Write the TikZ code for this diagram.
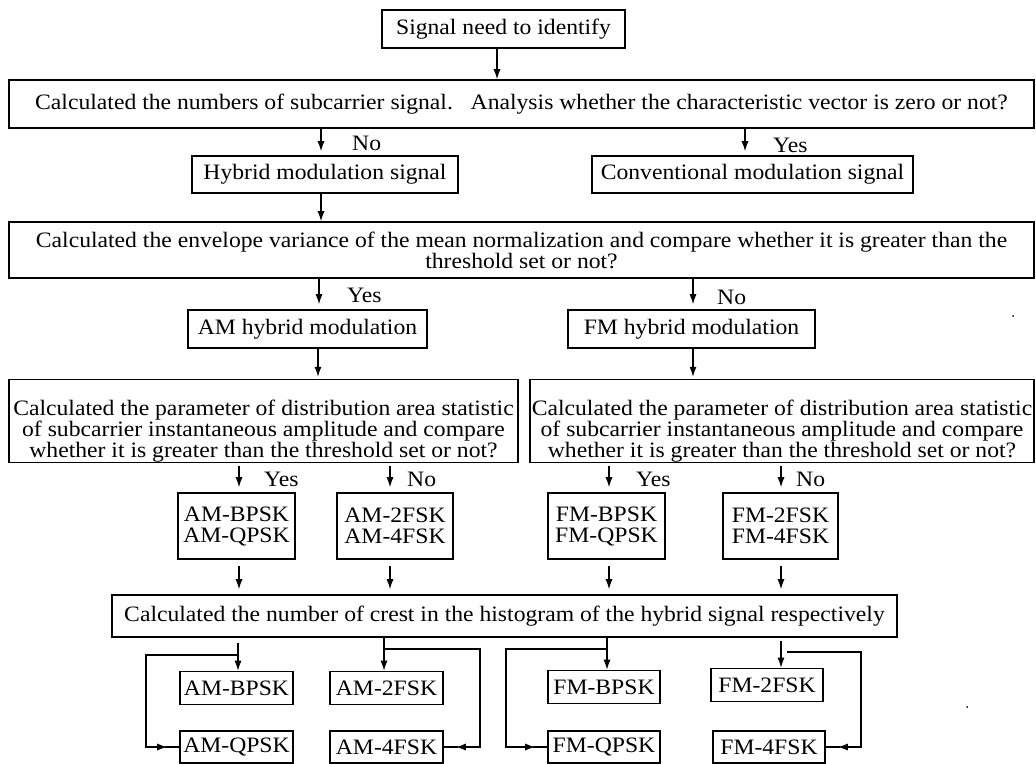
\documentclass[tikz,border=0pt]{standalone}
\usepackage{fontspec}
\setmainfont{Liberation Serif}[FakeStretch=1.075]
\usetikzlibrary{arrows.meta,calc}
\newcommand{\dgfont}{\fontsize{22}{21}\selectfont}
\tikzset{
  box/.style={draw, line width=1.6pt, inner sep=0pt, font=\dgfont, align=center},
  arr/.style={-{Latex[length=10pt,width=7pt]}, line width=1.2pt},
  plain/.style={line width=1.2pt},
  lab/.style={font=\dgfont, anchor=west, inner sep=0pt},
}
\begin{document}
\begin{tikzpicture}[x=1pt,y=-1pt]
\useasboundingbox (0,0) rectangle (1036,763);
% boxes
\node[box, minimum width=243pt, minimum height=38pt] (sig) at (503.5,29) {Signal need to identify};
\node[box, minimum width=1025pt, minimum height=48pt] (calc1) at (521.5,104) {Calculated the numbers of subcarrier signal.\ \ \ Analysis whether the characteristic vector is zero or not?};
\node[box, minimum width=266pt, minimum height=37pt] (hyb) at (325,174.5) {Hybrid modulation signal};
\node[box, minimum width=321pt, minimum height=37pt] (conv) at (752.5,174.5) {Conventional modulation signal};
\node[box, minimum width=1025pt, minimum height=56pt] (calc2) at (521.5,250) {Calculated the envelope variance of the mean normalization and compare whether it is greater than the\\threshold set or not?};
\node[box, minimum width=239pt, minimum height=38pt] (amh) at (307.5,329) {AM hybrid modulation};
\node[box, minimum width=247pt, minimum height=38pt] (fmh) at (691.5,329) {FM hybrid modulation};
\node[box, minimum width=509pt, minimum height=82pt] (amc) at (263.5,421) {\rule{0pt}{36pt}Calculated the parameter of distribution area statistic\\of subcarrier instantaneous amplitude and compare\\whether it is greater than the threshold set or not?};
\node[box, minimum width=504pt, minimum height=82pt] (fmc) at (782,421) {\rule{0pt}{36pt}Calculated the parameter of distribution area statistic\\of subcarrier instantaneous amplitude and compare\\whether it is greater than the threshold set or not?};
\node[box, minimum width=117pt, minimum height=66pt] (am1) at (236.5,526) {AM-BPSK\\AM-QPSK};
\node[box, minimum width=116pt, minimum height=66pt] (am2) at (395,526) {AM-2FSK\\AM-4FSK};
\node[box, minimum width=117pt, minimum height=66pt] (fm1) at (606.5,526) {FM-BPSK\\FM-QPSK};
\node[box, minimum width=115pt, minimum height=66pt] (fm2) at (780.5,526) {FM-2FSK\\FM-4FSK};
\node[box, minimum width=785pt, minimum height=42pt] (crest) at (504.5,616) {Calculated the number of crest in the histogram of the hybrid signal respectively};
\node[box, minimum width=113pt, minimum height=33pt] (amb) at (236.5,688) {AM-BPSK};
\node[box, minimum width=113pt, minimum height=33pt] (am2f) at (386.5,688) {AM-2FSK};
\node[box, minimum width=112pt, minimum height=33pt] (fmb) at (604,687) {FM-BPSK};
\node[box, minimum width=112pt, minimum height=33pt] (fm2f) at (767,685) {FM-2FSK};
\node[box, minimum width=113pt, minimum height=32pt] (amq) at (236.5,747) {AM-QPSK};
\node[box, minimum width=113pt, minimum height=32pt] (am4f) at (386.5,747) {AM-4FSK};
\node[box, minimum width=112pt, minimum height=32pt] (fmq) at (604,747) {FM-QPSK};
\node[box, minimum width=112pt, minimum height=32pt] (fm4f) at (769,747) {FM-4FSK};
% labels
\node[lab] (l1) at (352,143) {No};
\node[lab] (l2) at (773,145) {Yes};
\node[lab] (l3) at (347,295) {Yes};
\node[lab] (l4) at (717,297) {No};
\node[lab] (l5) at (264,479) {Yes};
\node[lab] (l6) at (407,479) {No};
\node[lab] (l7) at (636,479) {Yes};
\node[lab] (l8) at (796,479) {No};
% vertical arrows
\draw[arr] ([xshift=-6.5pt]sig.south) -- ([xshift=-6.5pt]sig.south |- calc1.north);
\draw[arr, shorten >=4pt] ([xshift=-4pt]hyb.north |- calc1.south) -- ([xshift=-4pt]hyb.north);
\draw[arr, shorten >=4pt] ([xshift=-7.5pt]conv.north |- calc1.south) -- ([xshift=-7.5pt]conv.north);
\draw[arr] ([xshift=-4pt]hyb.south) -- ([xshift=-4pt]hyb.south |- calc2.north);
\draw[arr, shorten >=5pt] ([xshift=11.5pt]amh.north |- calc2.south) -- ([xshift=11.5pt]amh.north);
\draw[arr, shorten >=5pt] ([xshift=1.5pt]fmh.north |- calc2.south) -- ([xshift=1.5pt]fmh.north);
\draw[arr, shorten >=2pt] ([xshift=10.5pt]amh.south) -- ([xshift=10.5pt]amh.south |- amc.north);
\draw[arr, shorten >=2pt] ([xshift=1.5pt]fmh.south) -- ([xshift=1.5pt]fmh.south |- fmc.north);
\draw[arr, shorten <=3pt, shorten >=5pt] ([xshift=2.5pt]am1.north |- amc.south) -- ([xshift=2.5pt]am1.north);
\draw[arr, shorten <=3pt, shorten >=5pt] ([xshift=-5pt]am2.north |- amc.south) -- ([xshift=-5pt]am2.north);
\draw[arr, shorten <=3pt, shorten >=5pt] ([xshift=2.5pt]fm1.north |- fmc.south) -- ([xshift=2.5pt]fm1.north);
\draw[arr, shorten <=3pt, shorten >=5pt] ([xshift=0.5pt]fm2.north |- fmc.south) -- ([xshift=0.5pt]fm2.north);
\draw[arr, shorten <=6pt, shorten >=5pt] ([xshift=2.5pt]am1.south) -- ([xshift=2.5pt]am1.south |- crest.north);
\draw[arr, shorten <=6pt, shorten >=5pt] ([xshift=-5pt]am2.south) -- ([xshift=-5pt]am2.south |- crest.north);
\draw[arr, shorten <=6pt, shorten >=5pt] ([xshift=2.5pt]fm1.south) -- ([xshift=2.5pt]fm1.south |- crest.north);
\draw[arr, shorten <=6pt, shorten >=5pt] ([xshift=0.5pt]fm2.south) -- ([xshift=0.5pt]fm2.south |- crest.north);
% bottom distribution
\coordinate (j1) at (238,655);
\coordinate (c1) at (146,655);
\coordinate (j2) at (384,649);
\coordinate (c2) at (480,649);
\coordinate (j3) at (607,649);
\coordinate (c3) at (506,649);
\coordinate (j4) at (787,652);
\coordinate (c4) at (861,652);
\draw[arr, shorten <=5pt] (j1 |- crest.south) -- (j1 |- amb.north);
\draw[plain] (j1) -- (c1) |- ($(amq.west)+(-24,0)$);
\draw[arr] ($(amq.west)+(-26,0)$) -- ($(amq.west)+(-12,0)$);
\draw[plain] ($(amq.west)+(-14,0)$) -- (amq.west);
\draw[arr] (j2 |- crest.south) -- (j2 |- am2f.north);
\draw[plain] (j2) -- (c2) |- ($(am4f.east)+(24,0)$);
\draw[arr] ($(am4f.east)+(26,0)$) -- ($(am4f.east)+(12,0)$);
\draw[plain] ($(am4f.east)+(14,0)$) -- (am4f.east);
\draw[arr] (j3 |- crest.south) -- (j3 |- fmb.north);
\draw[plain] (j3) -- (c3) |- ($(fmq.west)+(-24,0)$);
\draw[arr] ($(fmq.west)+(-26,0)$) -- ($(fmq.west)+(-12,0)$);
\draw[plain] ($(fmq.west)+(-14,0)$) -- (fmq.west);
\draw[arr, shorten <=3pt] ([xshift=-6pt]j4 |- crest.south) -- ([xshift=-6pt]j4 |- fm2f.north);
\draw[plain] (j4) -- (c4) |- ($(fm4f.east)+(24,0)$);
\draw[arr] ($(fm4f.east)+(26,0)$) -- ($(fm4f.east)+(12,0)$);
\draw[plain] ($(fm4f.east)+(14,0)$) -- (fm4f.east);
% stray dots
\fill (1013,316) circle (1pt);
\fill (967,707) circle (1pt);
\end{tikzpicture}
\end{document}
